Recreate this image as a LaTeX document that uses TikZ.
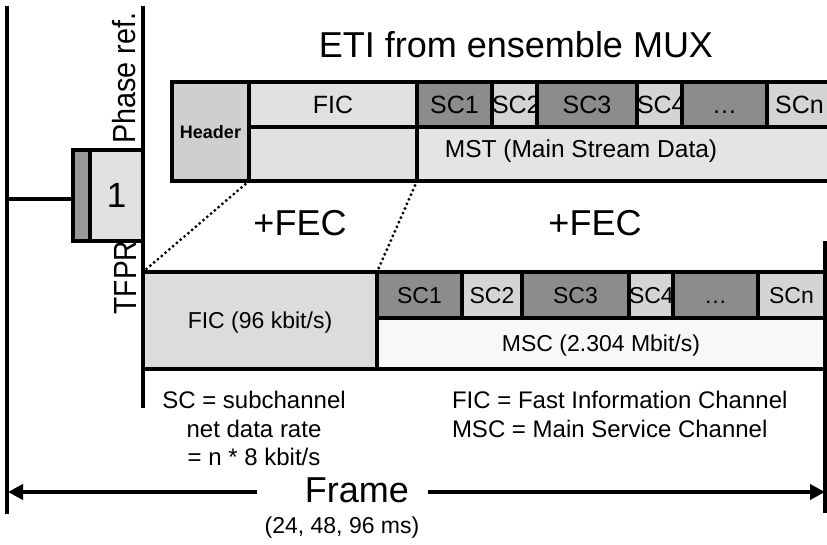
\documentclass[tikz,border=0pt]{standalone}
\usepackage{fontspec}
\setmainfont{Liberation Sans}
\usetikzlibrary{arrows.meta}
\definecolor{darkc}{HTML}{8C8C8C}
\definecolor{lightc}{HTML}{D4D4D4}
\definecolor{hdrc}{HTML}{CFCFCF}
\definecolor{ficc}{HTML}{E0E0E0}
\definecolor{mstc}{HTML}{E4E4E4}
\definecolor{ficlc}{HTML}{DCDCDC}
\definecolor{mscc}{HTML}{F8F8F8}
\definecolor{stripc}{HTML}{999999}
\newcommand{\mkcell}[6]{\node[#1,minimum width=#4pt,minimum height=#5pt] (#2) at #3 {#6};}
\begin{document}
\begin{tikzpicture}[x=1pt,y=-1pt,
  cell/.style={draw=black,line width=3.6pt,inner sep=0pt,outer sep=0pt,anchor=north west},
  tcell/.style={cell,font=\fontsize{25}{30}\selectfont,text height=18pt,text depth=0pt},
  bcell/.style={cell,font=\fontsize{23}{28}\selectfont,text height=16.5pt,text depth=0pt},
  dk/.style={fill=darkc},
  lt/.style={fill=lightc},
  rule/.style={line width=3.6pt},
  dots/.style={line width=3.2pt,line cap=round,dash pattern=on 0pt off 5pt},
  frarr/.style={line width=4.5pt,-{Triangle[length=15pt,width=15pt]}},
  lbl/.style={inner sep=0pt,outer sep=0pt}]
\useasboundingbox (0,0) rectangle (827,544);
% frame lines
\coordinate (lt) at (7,6);
\coordinate (lb) at (7,514);
\coordinate (mt) at (143,6);
\coordinate (mb) at (143,408);
\coordinate (rt) at (825,241);
\coordinate (rb) at (825,513);
\coordinate (hl) at (9,199);
\draw[rule] (lt) -- (lb);
\draw[rule] (mt) -- (mb);
\draw[rule] (rt) -- (rb);
% title
\node[lbl,font=\fontsize{36}{40}\selectfont] (title) at (516,45) {ETI from ensemble MUX};
% phase reference symbol
\mkcell{cell,fill=stripc}{strip}{(73,150)}{17}{91}{}
\mkcell{cell,fill=ficc,font=\fontsize{35}{40}\selectfont}{one}{(90,150)}{53}{91}{1}
\draw[rule] (hl) -- (hl -| strip.west);
\node[lbl,rotate=90,font=\fontsize{32}{36}\selectfont] (phase) at (124,78) {\scalebox{0.9}[1]{Phase ref.}};
\node[lbl,rotate=90,font=\fontsize{32}{36}\selectfont] (tfpr) at (125,277.5) {\scalebox{0.88}[1]{TFPR}};
% ETI frame
\mkcell{tcell,fill=hdrc,font=\bfseries\fontsize{18}{20}\selectfont,text height=13pt}{hdr}{(172,82)}{77}{99}{Header}
\mkcell{tcell,fill=ficc}{ficT}{(249,82)}{168}{45}{FIC}
\mkcell{tcell,fill=ficc}{ficB}{(249,127)}{168}{54}{}
\mkcell{tcell,dk}{sct1}{(417,82)}{75}{45}{SC1}
\mkcell{tcell,lt}{sct2}{(492,82)}{45}{45}{SC2}
\mkcell{tcell,dk}{sct3}{(537,82)}{100}{45}{SC3}
\mkcell{tcell,lt}{sct4}{(637,82)}{45}{45}{SC4}
\mkcell{tcell,dk}{sct5}{(682,82)}{85}{45}{…}
\mkcell{tcell,lt}{sctn}{(767,82)}{65}{45}{SCn}
\mkcell{tcell,fill=mstc}{mst}{(417,127)}{415}{54}{}
\node[lbl,font=\fontsize{24.5}{28}\selectfont,text height=17pt,text depth=0pt] (mstl) at (581,149) {MST (Main Stream Data)};
% FEC labels
\node[lbl,font=\fontsize{36}{40}\selectfont] (fec1) at (300,223) {+FEC};
\node[lbl,font=\fontsize{36}{40}\selectfont] (fec2) at (595,223) {+FEC};
% transmission frame
\mkcell{bcell,fill=ficlc}{ficL}{(143,272)}{234}{97}{FIC (96 kbit/s)}
\mkcell{bcell,dk}{scl1}{(377,272)}{85}{46}{SC1}
\mkcell{bcell,lt}{scl2}{(462,272)}{60}{46}{SC2}
\mkcell{bcell,dk}{scl3}{(522,272)}{107}{46}{SC3}
\mkcell{bcell,lt}{scl4}{(629,272)}{44}{46}{SC4}
\mkcell{bcell,dk}{scl5}{(673,272)}{85}{46}{…}
\mkcell{bcell,lt}{scln}{(758,272)}{67}{46}{SCn}
\mkcell{bcell,fill=mscc}{msc}{(377,318)}{448}{51}{MSC (2.304 Mbit/s)}
% dotted mapping lines
\draw[dots] (hdr.south east) -- (ficL.north west);
\draw[dots] (ficB.south east) -- (scl1.north west);
% legends
\node[lbl,anchor=north,align=center,font=\fontsize{24}{28.5}\selectfont] (scdef) at (254,391.5) {SC = subchannel\\net data rate\\= n * 8 kbit/s};
\node[lbl,anchor=north west,align=left,font=\fontsize{24}{28.5}\selectfont] (ficdef) at (452,391.5) {FIC = Fast Information Channel\\MSC = Main Service Channel};
% frame length
\node[lbl,font=\fontsize{36}{40}\selectfont] (frame) at (357,490) {Frame};
\node[lbl,font=\fontsize{23}{26}\selectfont] (ms) at (342,528) {(24, 48, 96 ms)};
\coordinate (fa1) at (257,492);
\coordinate (fal) at (8,492);
\coordinate (fa2) at (428,492);
\coordinate (far) at (825,492);
\draw[frarr] (fa1) -- (fal);
\draw[frarr] (fa2) -- (far);
\end{tikzpicture}
\end{document}
